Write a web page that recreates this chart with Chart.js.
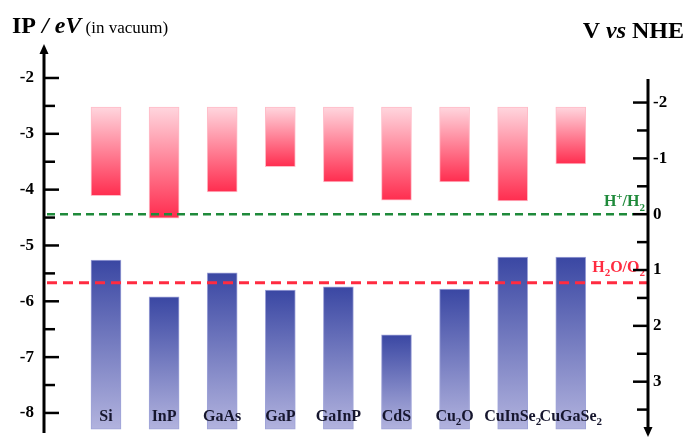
<!DOCTYPE html>
<html>
<head>
<meta charset="utf-8">
<script src="https://cdn.jsdelivr.net/npm/chart.js@4/dist/chart.umd.min.js"></script>
<style>
  html, body { margin: 0; padding: 0; background: #fff; }
  #wrap { width: 687px; height: 439px; }
</style>
</head>
<body>
<div id="wrap"><canvas id="c" width="687" height="439"></canvas></div>
<script>
// Semiconductor band edges on the vacuum scale (eV).
// "_x" marks a subscript character, "^x" a superscript one.
const materials = ['Si', 'InP', 'GaAs', 'GaP', 'GaInP', 'CdS', 'Cu_2O', 'CuInSe_2', 'CuGaSe_2'];
const cbTop    = [-2.52, -2.52, -2.52, -2.52, -2.52, -2.52, -2.52, -2.52, -2.52];
const cbEdge   = [-4.11, -4.51, -4.04, -3.59, -3.86, -4.19, -3.86, -4.20, -3.54];
const vbEdge   = [-5.26, -5.92, -5.49, -5.80, -5.74, -6.60, -5.78, -5.21, -5.21];
const vbBottom = [-8.29, -8.29, -8.29, -8.29, -8.29, -8.29, -8.29, -8.29, -8.29];

// Axis ticks
const vacuumTicks = [-2, -3, -4, -5, -6, -7, -8];
const vacuumMinor = [-2.5, -3.5, -4.5, -5.5, -6.5, -7.5];
const nheTicks    = [-2, -1, 0, 1, 2, 3];
const nheMinor    = [-1.5, -0.5, 0.5, 1.5, 2.5, 3.5];

// Vacuum level of the NHE reference (eV)
const NHE_ZERO = -4.44;

// Water redox potentials (V vs NHE)
const redoxNames  = ['H^+/H_2', 'H_2O/O_2'];
const redoxLevels = [0, 1.23];

const SERIF = '"Liberation Serif", "Times New Roman", "DejaVu Serif", serif';
const vacMax = -1.445, vacMin = -8.395;

// Vertical gradient spanning each bar
function barGradient(topColor, bottomColor) {
  return (ctx) => {
    if (ctx.type !== 'data') return topColor;
    const chart = ctx.chart;
    const y = chart.scales.y;
    if (!y || !chart.chartArea) return topColor;
    const vals = ctx.raw.y;
    const yTop = y.getPixelForValue(Math.max(vals[0], vals[1]));
    const yBot = y.getPixelForValue(Math.min(vals[0], vals[1]));
    if (!isFinite(yTop) || !isFinite(yBot) || yTop === yBot) return topColor;
    const g = chart.ctx.createLinearGradient(0, yTop, 0, yBot);
    g.addColorStop(0, topColor);
    g.addColorStop(1, bottomColor);
    return g;
  };
}

// Split markup into runs: normal, subscript, superscript
function parseRich(markup) {
  const runs = [];
  for (let i = 0; i < markup.length; i++) {
    let ch = markup[i], mode = 'n';
    if ((ch === '_' || ch === '^') && i + 1 < markup.length) { mode = ch; ch = markup[++i]; }
    const last = runs[runs.length - 1];
    if (last && last.mode === mode) last.t += ch; else runs.push({ t: ch, mode });
  }
  return runs;
}

function drawRich(c, markup, x, y, size, style, color, align) {
  const runs = parseRich(markup);
  const fontFor = (m) => `${style} ${m === 'n' ? size : Math.round(size * 0.68)}px ${SERIF}`;
  let total = 0;
  runs.forEach(r => { c.font = fontFor(r.mode); r.w = c.measureText(r.t).width; total += r.w; });
  let cx = align === 'center' ? x - total / 2 : align === 'right' ? x - total : x;
  c.fillStyle = color;
  c.textAlign = 'left';
  c.textBaseline = 'alphabetic';
  runs.forEach(r => {
    c.font = fontFor(r.mode);
    const dy = r.mode === '_' ? size * 0.28 : r.mode === '^' ? -size * 0.38 : 0;
    c.fillText(r.t, cx, y + dy);
    cx += r.w;
  });
}

function drawSegments(c, segs, x, y, align) {
  let total = 0;
  segs.forEach(s => { c.font = s.f; s.w = c.measureText(s.t).width; total += s.w; });
  let cx = align === 'right' ? x - total : x;
  c.fillStyle = '#000';
  c.textAlign = 'left';
  c.textBaseline = 'alphabetic';
  segs.forEach(s => { c.font = s.f; c.fillText(s.t, cx, y); cx += s.w; });
}

const decorations = {
  id: 'decorations',
  afterDatasetsDraw(chart) {
    const c = chart.ctx;
    const { chartArea: area, scales } = chart;
    const y = scales.y, y2 = scales.y2, x = scales.x;
    c.save();

    // Redox reference lines
    const lineStyles = [
      { color: '#1f8a3b', dash: [8, 5], width: 2.5, x1: area.left + 3, x2: area.right - 15, dyLabel: -8 },
      { color: '#ff2b40', dash: [10, 6], width: 3, x1: area.left + 3, x2: area.right - 1, dyLabel: -11 }
    ];
    redoxLevels.forEach((v, i) => {
      const st = lineStyles[i];
      const py = y2.getPixelForValue(v);
      c.beginPath();
      c.setLineDash(st.dash);
      c.lineWidth = st.width;
      c.strokeStyle = st.color;
      c.moveTo(st.x1, py);
      c.lineTo(st.x2, py);
      c.stroke();
      c.setLineDash([]);
      drawRich(c, redoxNames[i], area.right - 3, py + st.dyLabel, 16, 'bold', st.color, 'right');
    });

    // Material names inside the valence-band bars
    materials.forEach((m, i) => {
      drawRich(c, m, x.getPixelForValue(i), area.bottom - 14, 16, 'bold', '#16162e', 'center');
    });

    // Left axis (vacuum scale) with arrow pointing up
    c.strokeStyle = '#000';
    c.fillStyle = '#000';
    c.lineWidth = 3;
    const lx = area.left;
    c.beginPath();
    c.moveTo(lx, area.top + 4);
    c.lineTo(lx, area.bottom - 2);
    c.stroke();
    c.beginPath();
    c.moveTo(lx, area.top - 3);
    c.lineTo(lx - 4.5, area.top + 7);
    c.lineTo(lx + 4.5, area.top + 7);
    c.closePath();
    c.fill();
    c.lineWidth = 2.5;
    vacuumTicks.forEach(v => {
      const py = y.getPixelForValue(v);
      c.beginPath(); c.moveTo(lx, py); c.lineTo(lx + 15, py); c.stroke();
    });
    vacuumMinor.forEach(v => {
      const py = y.getPixelForValue(v);
      c.beginPath(); c.moveTo(lx, py); c.lineTo(lx + 11, py); c.stroke();
    });

    // Right axis (NHE scale) with arrow pointing down
    const rx = area.right;
    c.lineWidth = 3;
    c.beginPath();
    c.moveTo(rx, y2.getPixelForValue(-2.42));
    c.lineTo(rx, area.bottom - 6);
    c.stroke();
    c.beginPath();
    c.moveTo(rx, area.bottom + 2);
    c.lineTo(rx - 4.5, area.bottom - 8);
    c.lineTo(rx + 4.5, area.bottom - 8);
    c.closePath();
    c.fill();
    c.lineWidth = 2.5;
    nheTicks.forEach(v => {
      const py = y2.getPixelForValue(v);
      c.beginPath(); c.moveTo(rx, py); c.lineTo(rx - 15, py); c.stroke();
    });
    nheMinor.forEach(v => {
      const py = y2.getPixelForValue(v);
      c.beginPath(); c.moveTo(rx, py); c.lineTo(rx - 11, py); c.stroke();
    });

    // Axis titles
    drawSegments(c, [
      { t: 'IP', f: `bold 24px ${SERIF}` },
      { t: ' / eV', f: `italic bold 24px ${SERIF}` },
      { t: ' (in vacuum)', f: `17px ${SERIF}` }
    ], 12, 33, 'left');
    drawSegments(c, [
      { t: 'V ', f: `bold 24px ${SERIF}` },
      { t: 'vs', f: `italic bold 24px ${SERIF}` },
      { t: ' NHE', f: `bold 24px ${SERIF}` }
    ], 684, 38, 'right');

    c.restore();
  }
};

// Keep the plot area fixed: axis width set explicitly, no label overhang padding
function fixAxis(width) {
  return (s) => { s.width = width; s.paddingTop = 0; s.paddingBottom = 0; };
}

new Chart(document.getElementById('c'), {
  type: 'bar',
  data: {
    datasets: [
      {
        label: 'Conduction band',
        data: materials.map((m, i) => ({ x: i, y: [cbEdge[i], cbTop[i]] })),
        backgroundColor: barGradient('#ffd6de', '#ff2d4f'),
        borderColor: '#ffbcc8',
        borderWidth: 1,
        borderSkipped: false
      },
      {
        label: 'Valence band',
        data: materials.map((m, i) => ({ x: i, y: [vbBottom[i], vbEdge[i]] })),
        backgroundColor: barGradient('#3a47a3', '#b2b3de'),
        borderColor: '#9ea3d8',
        borderWidth: 1,
        borderSkipped: false
      }
    ]
  },
  options: {
    responsive: false,
    animation: false,
    grouped: false,
    barThickness: 30,
    layout: { padding: { left: 0, right: 0, top: 47, bottom: 4 } },
    scales: {
      x: { type: 'linear', display: false, offset: false, min: -1.067, max: 9.329 },
      y: {
        position: 'left',
        min: vacMin,
        max: vacMax,
        ticks: {
          stepSize: 1,
          includeBounds: false,
          padding: 10,
          color: '#000',
          font: { family: SERIF, size: 17, weight: 'bold' }
        },
        grid: { display: false, drawTicks: false },
        border: { display: false },
        afterFit: fixAxis(44)
      },
      y2: {
        position: 'right',
        reverse: true,
        min: NHE_ZERO - vacMax,
        max: NHE_ZERO - vacMin,
        ticks: {
          stepSize: 1,
          includeBounds: false,
          padding: 5,
          color: '#000',
          font: { family: SERIF, size: 17, weight: 'bold' }
        },
        grid: { display: false, drawTicks: false },
        border: { display: false },
        afterFit: fixAxis(39)
      }
    },
    plugins: {
      legend: { display: false },
      tooltip: { enabled: false }
    }
  },
  plugins: [decorations]
});
</script>
</body>
</html>
